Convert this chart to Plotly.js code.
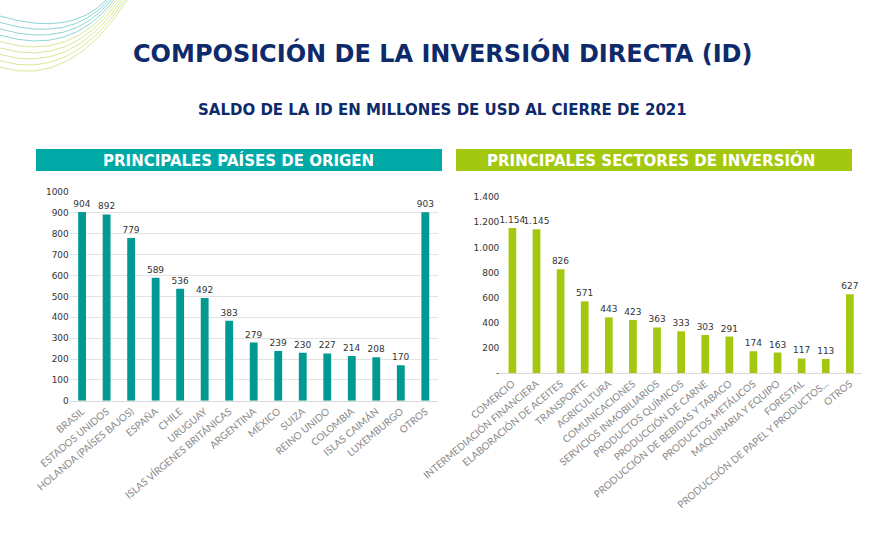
<!DOCTYPE html>
<html>
<head>
<meta charset="utf-8">
<script src="https://cdn.plot.ly/plotly-3.0.1.min.js"></script>
<style>body{margin:0;background:#fff}#chart{width:884px;height:533px}</style>
</head>
<body>
<div id="chart"></div>
<script>
const countries = ['BRASIL', 'ESTADOS UNIDOS', 'HOLANDA (PAÍSES BAJOS)', 'ESPAÑA', 'CHILE', 'URUGUAY',
  'ISLAS VÍRGENES BRITÁNICAS', 'ARGENTINA', 'MÉXICO', 'SUIZA', 'REINO UNIDO', 'COLOMBIA',
  'ISLAS CAIMÁN', 'LUXEMBURGO', 'OTROS'];
const countryValues = [904, 892, 779, 589, 536, 492, 383, 279, 239, 230, 227, 214, 208, 170, 903];

const sectors = ['COMERCIO', 'INTERMEDIACIÓN FINANCIERA', 'ELABORACIÓN DE ACEITES', 'TRANSPORTE',
  'AGRICULTURA', 'COMUNICACIONES', 'SERVICIOS INMOBILIARIOS', 'PRODUCTOS QUÍMICOS',
  'PRODUCCIÓN DE CARNE', 'PRODUCCIÓN DE BEBIDAS Y TABACO', 'PRODUCTOS METÁLICOS',
  'MAQUINARIA Y EQUIPO', 'FORESTAL', 'PRODUCCIÓN DE PAPEL Y PRODUCTOS...', 'OTROS'];
const sectorValues = [1154, 1145, 826, 571, 443, 423, 363, 333, 303, 291, 174, 163, 117, 113, 627];

const rightTicks = [0, 200, 400, 600, 800, 1000, 1200, 1400];
const rightTickText = ['-', '200', '400', '600', '800', '1.000', '1.200', '1.400'];

const teal = '#009a93';
const green = '#a3c80f';
const navy = '#0d2a6b';
const tickFont = { family: 'Lato, sans-serif', size: 10, color: '#8a8a8a' };
const labelFont = { family: 'DejaVu Sans', size: 9, color: '#333' };

const data = [
  {
    type: 'bar', x: countries, y: countryValues, xaxis: 'x', yaxis: 'y',
    marker: { color: teal }, width: 0.32,
    text: countryValues.map(String), textposition: 'outside', cliponaxis: false,
    constraintext: 'none', textfont: labelFont,
  },
  {
    type: 'bar', x: sectors, y: sectorValues, xaxis: 'x2', yaxis: 'y2',
    marker: { color: green }, width: 0.32,
    texttemplate: '%{y:,}', textposition: 'outside', cliponaxis: false,
    constraintext: 'none', textfont: labelFont,
  },
];

// decorative lines top-left
const deco = [];
for (let i = 0; i < 9; i++) {
  const c = i < 4 ? '#5cc2be' : '#c5dc6a';
  deco.push({
    type: 'path', xref: 'paper', yref: 'paper', layer: 'above',
    path: `M 0 ${0.97 - i * 0.012} Q 0.08 ${0.93 - i * 0.012} ${0.12 + i * 0.003} 1.0`,
    line: { color: c, width: 0.7 },
  });
}

function note(text, xp, yp, size, color) {
  return {
    text, xref: 'paper', yref: 'paper', x: xp / 884, y: 1 - yp / 533,
    xanchor: 'center', yanchor: 'middle', showarrow: false,
    font: { family: 'DejaVu Sans', size, color },
  };
}

const layout = {
  width: 884, height: 533,
  margin: { l: 0, r: 0, t: 0, b: 0, autoexpand: false },
  paper_bgcolor: '#fff', plot_bgcolor: '#fff',
  showlegend: false,
  separators: ',.',
  xaxis: {
    domain: [0.079, 0.495], anchor: 'y', tickangle: -40, tickfont: tickFont, automargin: false,
    showline: true, linecolor: '#d9d9d9', ticks: '',
  },
  yaxis: {
    domain: [0.248, 0.640], anchor: 'x', range: [0, 1000], dtick: 100, automargin: false,
    tickfont: { family: 'DejaVu Sans', size: 9, color: '#333' },
    gridcolor: '#e3e3e3', zeroline: false, ticks: '',
  },
  xaxis2: {
    domain: [0.566, 0.975], anchor: 'y2', tickangle: -40, tickfont: tickFont, automargin: false,
    showline: true, linecolor: '#d9d9d9', ticks: '',
  },
  yaxis2: {
    domain: [0.300, 0.630], anchor: 'x2', range: [0, 1400], automargin: false,
    tickvals: rightTicks, ticktext: rightTickText,
    tickfont: { family: 'DejaVu Sans', size: 9, color: '#333' },
    showgrid: false, zeroline: false, ticks: '',
  },
  shapes: [
    ...deco,
    { type: 'rect', xref: 'paper', yref: 'paper', x0: 36 / 884, x1: 442 / 884, y0: 1 - 171 / 533, y1: 1 - 149 / 533, fillcolor: '#00a9a5', line: { width: 0 } },
    { type: 'rect', xref: 'paper', yref: 'paper', x0: 456 / 884, x1: 852 / 884, y0: 1 - 171 / 533, y1: 1 - 149 / 533, fillcolor: green, line: { width: 0 } },
  ],
  annotations: [
    note('<b>COMPOSICIÓN DE LA INVERSIÓN DIRECTA (ID)</b>', 442, 53, 24, navy),
    note('<b>SALDO DE LA ID EN MILLONES DE USD AL CIERRE DE 2021</b>', 442, 110, 15, navy),
    note('<b>PRINCIPALES PAÍSES DE ORIGEN</b>', 239, 160, 15, '#fff'),
    note('<b>PRINCIPALES SECTORES DE INVERSIÓN</b>', 651, 160, 15, '#fff'),
  ],
};

Plotly.newPlot('chart', data, layout, { displayModeBar: false });
</script>
</body>
</html>
